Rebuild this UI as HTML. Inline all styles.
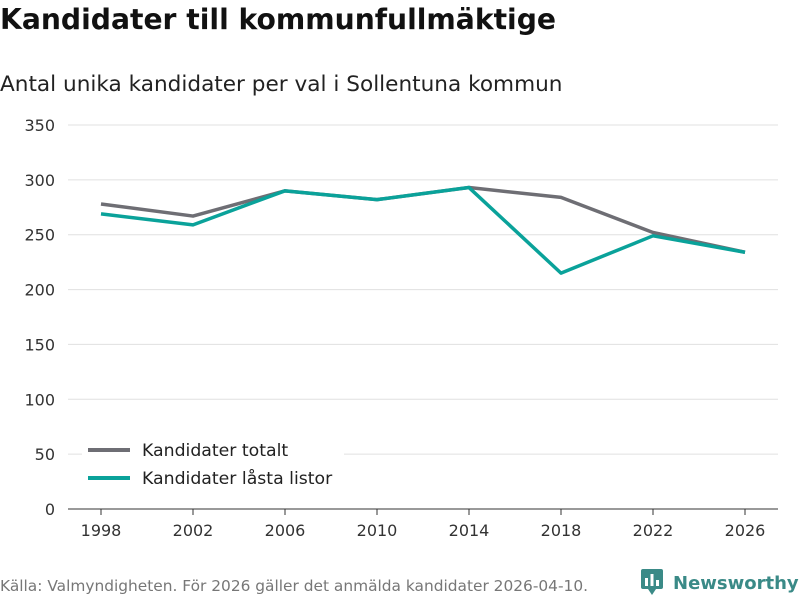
<!DOCTYPE html>
<html><head><meta charset="utf-8">
<style>
body{margin:0;background:#fff;font-family:"DejaVu Sans","Liberation Sans",sans-serif;}
#wrap{position:relative;width:800px;height:600px;overflow:hidden;}
h1{position:absolute;left:0;top:3px;margin:0;font-size:28.2px;font-weight:bold;color:#111;white-space:nowrap;}
h2{position:absolute;left:0;top:72px;margin:0;font-size:21.6px;font-weight:normal;color:#222;white-space:nowrap;}
#foot{position:absolute;left:0;top:577px;font-size:15.4px;color:#777;white-space:nowrap;}
#logo{position:absolute;left:641px;top:569px;font-size:18px;font-weight:bold;color:#3a8a87;white-space:nowrap;}
</style></head><body>
<div id="wrap">
<h1>Kandidater till kommunfullmäktige</h1>
<h2>Antal unika kandidater per val i Sollentuna kommun</h2>
<svg id="chart" width="800" height="600" style="position:absolute;left:0;top:0"></svg>
<div id="foot">Källa: Valmyndigheten. För 2026 gäller det anmälda kandidater 2026-04-10.</div>
<div id="logo"><svg width="24" height="26" style="vertical-align:-6px;margin-right:8px"><rect x="0" y="0" width="22" height="20" rx="2" fill="#3a8a87"/><polygon points="7,20 15,20 11,26" fill="#3a8a87"/><rect x="4" y="9" width="3" height="8" fill="#fff"/><rect x="9.5" y="5" width="3" height="12" fill="#fff"/><rect x="15" y="11" width="3" height="6" fill="#fff"/></svg>Newsworthy</div>
</div>
<script>
const years=[1998,2002,2006,2010,2014,2018,2022,2026];
const totalt=[278,267,290,282,293,284,252,234];
const lasta=[269,259,290,282,293,215,249,234];
const yTicks=[0,50,100,150,200,250,300,350];
const NS="http://www.w3.org/2000/svg";
const svg=document.getElementById('chart');
const x=v=>101+(v-1998)/(2026-1998)*644;
const y=v=>509-v/350*384;
function mk(t,a){const e=document.createElementNS(NS,t);for(const k in a)e.setAttribute(k,a[k]);svg.appendChild(e);return e;}
yTicks.forEach(t=>{
 if(t>0){const g=mk('line',{x1:68,x2:778,y1:y(t),y2:y(t),stroke:'#e0e0e0','stroke-width':1});
 
 }
 const l=mk('text',{x:55,y:y(t)+6,'text-anchor':'end','font-size':16,fill:'#333'});l.textContent=t;
 
 
});
const ax=mk('line',{x1:68,x2:778,y1:509,y2:509,stroke:'#333','stroke-width':1});


years.forEach(yr=>{
 const tk=mk('line',{x1:x(yr),x2:x(yr),y1:509,y2:515,stroke:'#333'});
 
 
 const l=mk('text',{x:x(yr),y:536,'text-anchor':'middle','font-size':16,fill:'#333'});l.textContent=yr;
 
 
});
function line(vals,color,name){
 const p=mk('polyline',{points:vals.map((v,i)=>x(years[i])+','+y(v)).join(' '),fill:'none',stroke:color,'stroke-width':3.5,'stroke-linejoin':'round'});
 
 
}
line(totalt,'#6e6e74','series-totalt');
line(lasta,'#0aa29a','series-lasta-listor');
const bg=mk('rect',{x:82,y:436,width:262,height:58,fill:'#fff'});


[['Kandidater totalt','#6e6e74',450],['Kandidater låsta listor','#0aa29a',478]].forEach(([t,c,yy])=>{
 const s=mk('line',{x1:88,x2:130,y1:yy,y2:yy,stroke:c,'stroke-width':4});
 
 
 const l=mk('text',{x:142,y:yy+6,'font-size':17.3,fill:'#222'});l.textContent=t;
 
 
});
</script>
</body></html>
